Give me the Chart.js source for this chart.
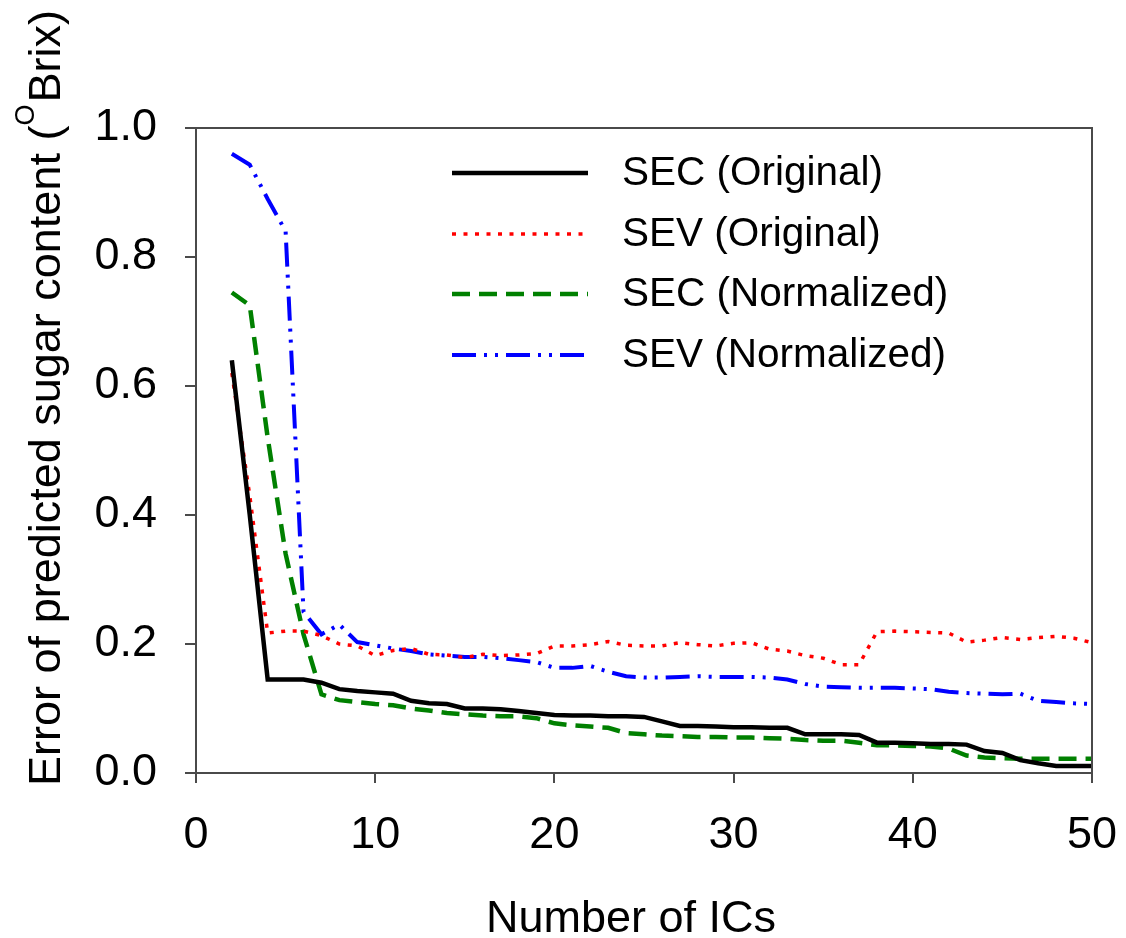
<!DOCTYPE html>
<html>
<head>
<meta charset="utf-8">
<script src="https://cdn.jsdelivr.net/npm/chart.js@4.4.0/dist/chart.umd.min.js"></script>
<style>
  html, body { margin: 0; padding: 0; background: #fff; }
</style>
</head>
<body>
<canvas id="errChart" width="1126" height="938"></canvas>
<script>
// number of independent components (x)
const ics = [2, 3, 4, 5, 6, 7, 8, 9, 10, 11, 12, 13, 14, 15, 16, 17, 18, 19, 20,
  21, 22, 23, 24, 25, 26, 27, 28, 29, 30, 31, 32, 33, 34, 35, 36, 37, 38, 39, 40,
  41, 42, 43, 44, 45, 46, 47, 48, 49, 50];

const secOriginal = [0.64, 0.40, 0.145, 0.145, 0.145, 0.140, 0.130, 0.127, 0.125, 0.123,
  0.112, 0.108, 0.107, 0.100, 0.100, 0.099, 0.096, 0.093, 0.090, 0.089,
  0.089, 0.088, 0.088, 0.087, 0.080, 0.073, 0.073, 0.072, 0.071, 0.071,
  0.070, 0.070, 0.060, 0.060, 0.060, 0.059, 0.047, 0.047, 0.046, 0.045,
  0.045, 0.044, 0.034, 0.031, 0.020, 0.015, 0.011, 0.011, 0.011];

const sevOriginal = [0.62, 0.43, 0.217, 0.220, 0.220, 0.213, 0.200, 0.197, 0.182, 0.190,
  0.193, 0.184, 0.183, 0.179, 0.184, 0.182, 0.183, 0.185, 0.197, 0.197,
  0.199, 0.204, 0.198, 0.197, 0.197, 0.202, 0.199, 0.197, 0.201, 0.202,
  0.192, 0.189, 0.182, 0.178, 0.168, 0.168, 0.219, 0.220, 0.219, 0.218,
  0.217, 0.203, 0.206, 0.210, 0.207, 0.210, 0.212, 0.209, 0.202];

const secNormalized = [0.745, 0.725, 0.52, 0.34, 0.215, 0.122, 0.113, 0.110, 0.107, 0.105,
  0.100, 0.097, 0.093, 0.091, 0.089, 0.088, 0.088, 0.085, 0.077, 0.074,
  0.072, 0.070, 0.062, 0.060, 0.058, 0.057, 0.056, 0.056, 0.055, 0.055,
  0.054, 0.053, 0.051, 0.050, 0.050, 0.047, 0.043, 0.043, 0.042, 0.041,
  0.038, 0.027, 0.024, 0.023, 0.022, 0.022, 0.022, 0.022, 0.022];

const sevNormalized = [0.96, 0.943, 0.89, 0.84, 0.25, 0.215, 0.230, 0.203, 0.198, 0.193,
  0.189, 0.184, 0.182, 0.180, 0.180, 0.178, 0.175, 0.172, 0.163, 0.163,
  0.166, 0.157, 0.150, 0.148, 0.148, 0.149, 0.150, 0.149, 0.149, 0.149,
  0.148, 0.145, 0.138, 0.134, 0.133, 0.132, 0.132, 0.132, 0.131, 0.130,
  0.126, 0.124, 0.123, 0.122, 0.123, 0.112, 0.110, 0.108, 0.107];

const xTicks = [0, 10, 20, 30, 40, 50];
const yTicks = [0.0, 0.2, 0.4, 0.6, 0.8, 1.0];

const axisColor = "#4a4a4a";
const fontFamily = '"Liberation Sans", Arial, sans-serif';

Chart.defaults.font.family = fontFamily;
Chart.defaults.color = "#000";

function pairs(values) {
  return ics.map((x, i) => ({ x: x, y: values[i] }));
}

// frame, axis titles and the in-plot legend
const extrasPlugin = {
  id: "extras",
  afterDraw(chart) {
    const { ctx, chartArea: a } = chart;
    ctx.save();

    ctx.strokeStyle = axisColor;
    ctx.lineWidth = 2;
    ctx.beginPath();
    ctx.moveTo(a.left, a.top);
    ctx.lineTo(a.right, a.top);
    ctx.lineTo(a.right, a.bottom);
    ctx.stroke();

    ctx.fillStyle = "#000";
    ctx.font = "45px " + fontFamily;
    ctx.textAlign = "center";
    ctx.textBaseline = "alphabetic";
    ctx.fillText("Number of ICs", 631, 932);

    // y title with superscript O
    const part1 = "Error of predicted sugar content (";
    const part2 = "Brix)";
    ctx.font = "45px " + fontFamily;
    const w1 = ctx.measureText(part1).width;
    const w3 = ctx.measureText(part2).width;
    ctx.font = "27px " + fontFamily;
    const w2 = ctx.measureText("O").width + 2;
    const total = w1 + w2 + w3;
    ctx.translate(60, 398);
    ctx.rotate(-Math.PI / 2);
    ctx.textAlign = "left";
    let x0 = -total / 2;
    ctx.font = "45px " + fontFamily;
    ctx.fillText(part1, x0, 0);
    ctx.font = "27px " + fontFamily;
    ctx.fillText("O", x0 + w1, -26);
    ctx.font = "45px " + fontFamily;
    ctx.fillText(part2, x0 + w1 + w2, 0);
    ctx.setTransform(1, 0, 0, 1, 0, 0);

    // legend
    const rows = [173, 234, 294, 355];
    ctx.font = "40.5px " + fontFamily;
    ctx.textAlign = "left";
    ctx.textBaseline = "middle";
    chart.data.datasets.forEach((ds, i) => {
      const y = rows[i];
      ctx.save();
      ctx.strokeStyle = ds.borderColor;
      ctx.lineWidth = ds.borderWidth;
      ctx.setLineDash(ds.borderDash || []);
      ctx.beginPath();
      ctx.moveTo(452, y);
      ctx.lineTo(588, y);
      ctx.stroke();
      ctx.restore();
      ctx.fillStyle = "#000";
      ctx.fillText(ds.label, 622, y + 1);
    });

    ctx.restore();
  }
};

const ctx = document.getElementById("errChart").getContext("2d");
const errChart = new Chart(ctx, {
  type: "line",
  data: {
    datasets: [
      {
        label: "SEC (Original)",
        data: pairs(secOriginal),
        borderColor: "#000000",
        borderWidth: 4.5,
        borderDash: [],
      },
      {
        label: "SEV (Original)",
        data: pairs(sevOriginal),
        borderColor: "#ff0000",
        borderWidth: 3.5,
        borderDash: [4, 7.5],
      },
      {
        label: "SEC (Normalized)",
        data: pairs(secNormalized),
        borderColor: "#008000",
        borderWidth: 4.5,
        borderDash: [18, 9],
      },
      {
        label: "SEV (Normalized)",
        data: pairs(sevNormalized),
        borderColor: "#0000ff",
        borderWidth: 4,
        borderDash: [24, 8, 3, 8, 3, 8],
      },
    ],
  },
  options: {
    responsive: false,
    animation: false,
    devicePixelRatio: 1,
    layout: { padding: { top: 128, right: 34, left: 0, bottom: 0 } },
    elements: {
      point: { radius: 0, hoverRadius: 0 },
      line: { tension: 0, fill: false },
    },
    plugins: {
      legend: { display: false },
      tooltip: { enabled: false },
    },
    scales: {
      x: {
        type: "linear",
        min: 0,
        max: 50,
        afterBuildTicks: (s) => { s.ticks = xTicks.map((v) => ({ value: v })); },
        ticks: { padding: 26, color: "#000", font: { size: 45 } },
        grid: { display: true, drawOnChartArea: false, tickLength: 10, color: axisColor, lineWidth: 2 },
        border: { display: true, color: axisColor, width: 2 },
        afterFit: (s) => { s.height = 165; s.paddingLeft = 0; s.paddingRight = 0; },
      },
      y: {
        type: "linear",
        min: 0,
        max: 1,
        afterBuildTicks: (s) => { s.ticks = yTicks.map((v) => ({ value: v })); },
        ticks: { padding: 28, color: "#000", font: { size: 45 }, callback: (v) => Number(v).toFixed(1) },
        grid: { display: true, drawOnChartArea: false, tickLength: 11, color: axisColor, lineWidth: 2 },
        border: { display: true, color: axisColor, width: 2 },
        afterFit: (s) => { s.width = 196; s.paddingTop = 0; s.paddingBottom = 0; },
      },
    },
  },
  plugins: [extrasPlugin],
});
</script>
</body>
</html>
